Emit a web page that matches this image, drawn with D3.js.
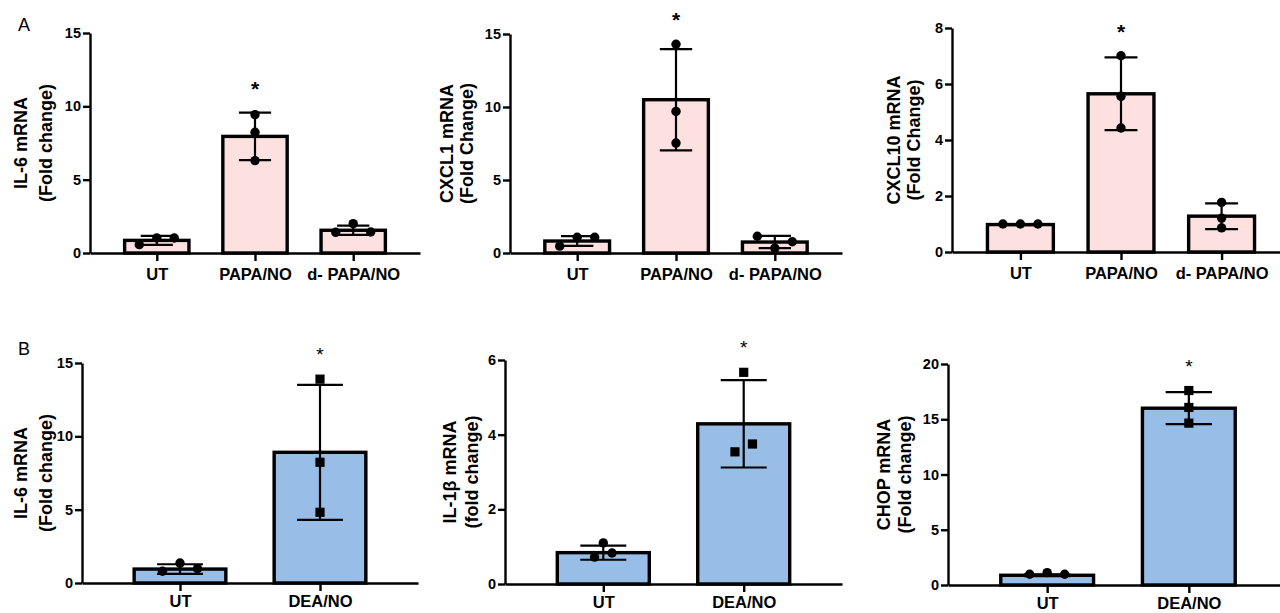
<!DOCTYPE html>
<html>
<head>
<meta charset="utf-8">
<script src="https://cdn.jsdelivr.net/npm/d3@7"></script>
<style>
  body{margin:0;background:#fff;}
  svg{display:block;font-family:"Liberation Sans",Arial,sans-serif;}
</style>
</head>
<body>
<svg id="chart" width="1280" height="613"></svg>
<script>
// categories
const papaGroups = ['UT', 'PAPA/NO', 'd- PAPA/NO'];
const deaGroups = ['UT', 'DEA/NO'];

// panel A - IL-6
const il6PapaTitle = ['IL-6 mRNA', '(Fold change)'];
const il6PapaTicks = [0, 5, 10, 15];
const il6PapaMean = [0.86, 7.95, 1.55];
const il6PapaSd = [0.31, 1.62, 0.31];
const il6PapaPts = [[0.57, 1.02, 1.02], [9.43, 8.23, 6.30], [1.41, 2.00, 1.43]];

// panel A - CXCL1
const cxcl1Title = ['CXCL1 mRNA', '(Fold Change)'];
const cxcl1Ticks = [0, 5, 10, 15];
const cxcl1Mean = [0.82, 10.5, 0.75];
const cxcl1Sd = [0.33, 3.47, 0.42];
const cxcl1Pts = [[0.47, 1.08, 1.08], [14.3, 9.70, 7.53], [1.15, 0.33, 0.77]];

// panel A - CXCL10
const cxcl10Title = ['CXCL10 mRNA', '(Fold Change)'];
const cxcl10Ticks = [0, 2, 4, 6, 8];
const cxcl10Mean = [0.98, 5.65, 1.28];
const cxcl10Sd = [0.02, 1.30, 0.46];
const cxcl10Pts = [[1.0, 1.0, 1.0], [7.01, 5.56, 4.43], [1.77, 1.21, 0.86]];

// panel B - IL-6
const il6DeaTitle = ['IL-6 mRNA', '(Fold change)'];
const il6DeaTicks = [0, 5, 10, 15];
const il6DeaMean = [0.95, 8.91];
const il6DeaSd = [0.33, 4.60];
const il6DeaPts = [[0.80, 1.36, 0.98], [13.9, 8.23, 4.82]];

// panel B - IL-1b
const il1bTitle = ['IL-1\u03b2 mRNA', '(fold change)'];
const il1bTicks = [0, 2, 4, 6];
const il1bMean = [0.84, 4.29];
const il1bSd = [0.19, 1.17];
const il1bPts = [[0.72, 1.10, 0.83], [5.67, 3.54, 3.75]];

// panel B - CHOP
const chopTitle = ['CHOP mRNA', '(Fold change)'];
const chopTicks = [0, 5, 10, 15, 20];
const chopMean = [0.88, 16.0];
const chopSd = [0.08, 1.45];
const chopPts = [[0.97, 1.12, 0.97], [17.6, 16.07, 14.65]];

const pink = '#fde1e1';
const blue = '#98bde6';

const panels = [
  {groups: papaGroups, title: il6PapaTitle, ticks: il6PapaTicks, mean: il6PapaMean, sd: il6PapaSd, pts: il6PapaPts, fill: pink, shapes: ['circle','circle','circle']},
  {groups: papaGroups, title: cxcl1Title, ticks: cxcl1Ticks, mean: cxcl1Mean, sd: cxcl1Sd, pts: cxcl1Pts, fill: pink, shapes: ['circle','circle','circle']},
  {groups: papaGroups, title: cxcl10Title, ticks: cxcl10Ticks, mean: cxcl10Mean, sd: cxcl10Sd, pts: cxcl10Pts, fill: pink, shapes: ['circle','circle','circle']},
  {groups: deaGroups, title: il6DeaTitle, ticks: il6DeaTicks, mean: il6DeaMean, sd: il6DeaSd, pts: il6DeaPts, fill: blue, shapes: ['circle','square']},
  {groups: deaGroups, title: il1bTitle, ticks: il1bTicks, mean: il1bMean, sd: il1bSd, pts: il1bPts, fill: blue, shapes: ['circle','square']},
  {groups: deaGroups, title: chopTitle, ticks: chopTicks, mean: chopMean, sd: chopSd, pts: chopPts, fill: blue, shapes: ['circle','square']}
];

// where each panel sits on the page
const layout = [
  {x: 90,  right: 420,  top: 33,  bottom: 253, pad: 0.68, t1: -63, t2: -38, lab: 7, star: 'A'},
  {x: 510, right: 842,  top: 34,  bottom: 253, pad: 0.68, t1: -57, t2: -37, lab: 7, star: 'A'},
  {x: 952, right: 1290, top: 28,  bottom: 252, pad: 0.68, t1: -52, t2: -32, lab: 7, star: 'A'},
  {x: 82,  right: 418,  top: 363, bottom: 583, pad: 0.7,  t1: -55, t2: -30, lab: 4, star: 'B'},
  {x: 505, right: 842,  top: 360, bottom: 584, pad: 0.7,  t1: -49, t2: -27, lab: 4, star: 'B'},
  {x: 948, right: 1288, top: 364, bottom: 585, pad: 0.7,  t1: -58, t2: -37, lab: 4, star: 'B'}
];

const svg = d3.select('#chart');

// spread points that sit too close to each other side by side (like a column scatter)
function spreadOffsets(vals, y, gapPx, step){
  const order = vals.map((v,i)=>i).sort((a,b)=>vals[a]-vals[b]);
  const clusters = [];
  let cur = [order[0]];
  for(let k = 1; k < order.length; k++){
    if(Math.abs(y(vals[order[k]]) - y(vals[order[k-1]])) < gapPx){
      cur.push(order[k]);
    }else{
      clusters.push(cur);
      cur = [order[k]];
    }
  }
  clusters.push(cur);
  const off = vals.map(()=>0);
  clusters.forEach(c=>{
    c.sort((a,b)=>a-b);
    c.forEach((idx,j)=>{ off[idx] = (j-(c.length-1)/2)*step; });
  });
  return off;
}

function drawPanel(p, l){
  const g = svg.append('g');
  const y = d3.scaleLinear().domain([0, d3.max(p.ticks)]).range([l.bottom, l.top]);
  const x = d3.scalePoint().domain(p.groups).range([l.x, l.right]).padding(l.pad);
  const bw = x.step()*0.655;
  const capW = bw*0.5;

  // bars
  g.selectAll('rect.bar').data(p.groups).join('rect')
    .attr('class','bar')
    .attr('x', d=>x(d)-bw/2)
    .attr('y', (d,i)=>y(p.mean[i]))
    .attr('width', bw)
    .attr('height', (d,i)=>y(0)-y(p.mean[i]))
    .attr('fill', p.fill)
    .attr('stroke', '#000')
    .attr('stroke-width', 3.4);

  // error bars
  const eb = g.selectAll('g.err').data(p.groups).join('g').attr('class','err')
    .attr('stroke','#000').attr('stroke-width',2.2);
  eb.append('line')
    .attr('x1', d=>x(d)).attr('x2', d=>x(d))
    .attr('y1', (d,i)=>y(p.mean[i]+p.sd[i]))
    .attr('y2', (d,i)=>y(p.mean[i]-p.sd[i]));
  eb.append('line')
    .attr('x1', d=>x(d)-capW/2).attr('x2', d=>x(d)+capW/2)
    .attr('y1', (d,i)=>y(p.mean[i]+p.sd[i]))
    .attr('y2', (d,i)=>y(p.mean[i]+p.sd[i]));
  eb.append('line')
    .attr('x1', d=>x(d)-capW/2).attr('x2', d=>x(d)+capW/2)
    .attr('y1', (d,i)=>y(p.mean[i]-p.sd[i]))
    .attr('y2', (d,i)=>y(p.mean[i]-p.sd[i]));

  // points
  p.groups.forEach((grp,i)=>{
    const off = spreadOffsets(p.pts[i], y, 9, 17.5);
    const pts = p.pts[i].map((v,j)=>({v:v, dx:off[j]}));
    if(p.shapes[i] == 'circle'){
      g.selectAll(null).data(pts).join('circle')
        .attr('cx', d=>x(grp)+d.dx)
        .attr('cy', d=>y(d.v))
        .attr('r', 4.7)
        .attr('fill','#000');
    }else{
      g.selectAll(null).data(pts).join('rect')
        .attr('x', d=>x(grp)+d.dx-4.6)
        .attr('y', d=>y(d.v)-4.6)
        .attr('width', 9.2).attr('height', 9.2)
        .attr('fill','#000');
    }
  });

  // axes
  const ya = g.append('g')
    .attr('transform', `translate(${l.x},0)`)
    .call(d3.axisLeft(y).tickValues(p.ticks).tickSize(7).tickSizeOuter(0).tickPadding(2).tickFormat(d3.format('d')));
  const xa = g.append('g')
    .attr('transform', `translate(0,${l.bottom})`)
    .call(d3.axisBottom(x).tickSize(8).tickSizeOuter(0).tickPadding(l.lab));
  [ya, xa].forEach(a=>{
    a.select('.domain').attr('stroke','#000').attr('stroke-width',2.4);
    a.selectAll('.tick line').attr('stroke','#000').attr('stroke-width',2.4);
    a.selectAll('.tick text').attr('fill','#000').attr('font-family','"Liberation Sans",Arial,sans-serif').attr('font-weight','bold');
  });
  ya.selectAll('.tick text').attr('font-size', 14.5);
  xa.selectAll('.tick text').attr('font-size', 16.5);

  // y title
  const cy = (l.top+l.bottom)/2;
  [l.t1, l.t2].forEach((dx,k)=>{
    g.append('text')
      .attr('transform', `translate(${l.x+dx},${cy}) rotate(-90)`)
      .attr('text-anchor','middle')
      .attr('font-size', 18)
      .attr('font-weight','bold')
      .text(p.title[k]);
  });

  // significance star over the treated group
  const si = 1;
  const topVal = d3.max([d3.max(p.pts[si]), p.mean[si]+p.sd[si]]);
  g.append('text')
    .attr('x', x(p.groups[si]))
    .attr('y', y(topVal)-28+ (l.star=='A' ? 11 : 10))
    .attr('text-anchor','middle')
    .attr('font-size', l.star=='A' ? 21 : 19)
    .attr('font-weight', l.star=='A' ? 'bold' : 'normal')
    .text('*');
}

panels.forEach((p,i)=>drawPanel(p, layout[i]));

// panel letters
svg.append('text').attr('x',18).attr('y',31).attr('font-size',18).text('A');
svg.append('text').attr('x',18).attr('y',355).attr('font-size',18).text('B');
</script>
</body>
</html>
